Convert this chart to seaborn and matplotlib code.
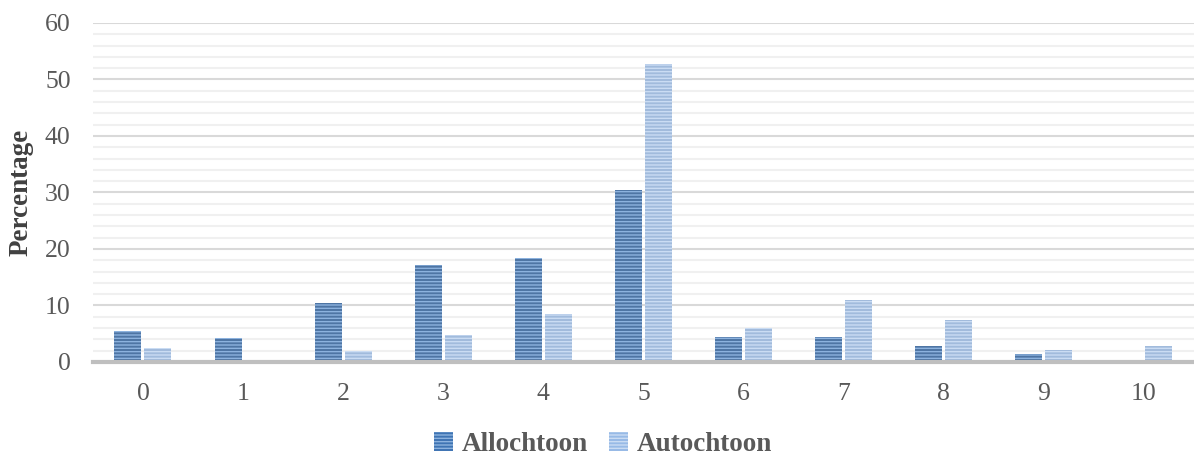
import matplotlib
matplotlib.use("Agg")
import matplotlib.pyplot as plt
import matplotlib.patches as mpatches
from matplotlib.ticker import MultipleLocator
import seaborn as sns
import pandas as pd

# Score distribution per group (percentage)
scores = ["0", "1", "2", "3", "4", "5", "6", "7", "8", "9", "10"]
allochtoon = [5.5, 4.2, 10.5, 17.2, 18.4, 30.4, 4.4, 4.4, 2.8, 1.5, 0.0]
autochtoon = [2.4, 0.0, 1.9, 4.8, 8.5, 52.7, 6.1, 11.0, 7.5, 2.1, 2.8]
groups = ["Allochtoon", "Autochtoon"]

df = pd.DataFrame({
    "score": scores * 2,
    "value": allochtoon + autochtoon,
    "group": [groups[0]] * len(scores) + [groups[1]] * len(scores),
})

sns.set_theme(style="white")
plt.rcParams["font.family"] = ["Liberation Serif", "DejaVu Serif"]
plt.rcParams["hatch.linewidth"] = 1.0

face = {"Allochtoon": "#3f74b3", "Autochtoon": "#97bae6"}
stripe = {"Allochtoon": "#8cb2de", "Autochtoon": "#cadcf3"}

fig = plt.figure(figsize=(11.94, 4.57), dpi=100)
ax = fig.add_axes([0.0778, 0.2079, 0.9222, 0.7418])

sns.barplot(data=df, x="score", y="value", hue="group", order=scores,
            hue_order=groups, palette=face, width=0.6, gap=0.1,
            legend=False, ax=ax, zorder=3)

for cont, g in zip(ax.containers, groups):
    for bar in cont:
        bar.set_edgecolor(stripe[g])
        bar.set_linewidth(0)
        bar.set_hatch("-----")

ax.set_xlim(-0.5, len(scores) - 0.5)
ax.set_ylim(0, 60)
ax.yaxis.set_major_locator(MultipleLocator(10))
ax.yaxis.set_minor_locator(MultipleLocator(2))
ax.grid(axis="y", which="major", color="#d9d9d9", linewidth=1.5, zorder=0)
ax.grid(axis="y", which="minor", color="#f0f0f0", linewidth=1.5, zorder=0)
ax.set_axisbelow(True)
for s in ["top", "right", "left"]:
    ax.spines[s].set_visible(False)
ax.spines["bottom"].set_color("#bfbfbf")
ax.spines["bottom"].set_linewidth(3)
ax.spines["bottom"].set_zorder(4)

ax.tick_params(axis="x", length=0, pad=15, labelsize=18.5, labelcolor="#595959")
ax.tick_params(axis="y", which="both", length=0, pad=16, labelsize=18.5,
               labelcolor="#595959")
ax.set_xlabel("")
ax.set_ylabel("Percentage", fontsize=19.5, fontweight="bold", color="#404040")
ax.yaxis.set_label_coords(-0.054, 0.5)

handles = [mpatches.Patch(facecolor=face[g], edgecolor=stripe[g], linewidth=0,
                          hatch="-----", label=g) for g in groups]
leg = fig.legend(handles=handles, loc="center", bbox_to_anchor=(0.505, 0.028),
                 ncol=2, frameon=False, handlelength=0.7, handleheight=0.7,
                 handletextpad=0.3, columnspacing=0.8,
                 prop={"family": "Liberation Serif", "weight": "bold",
                       "size": 19.5})
for t in leg.get_texts():
    t.set_color("#595959")

fig.savefig("out.png", dpi=100)
